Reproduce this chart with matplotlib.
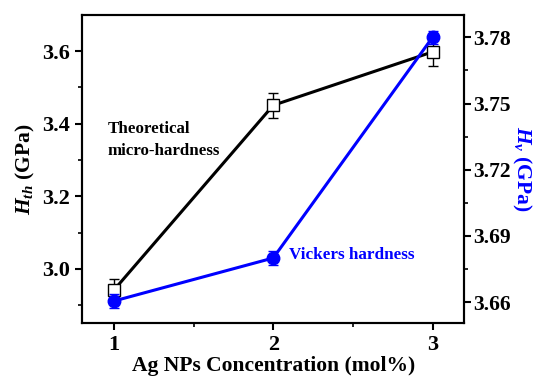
import matplotlib

matplotlib.use("Agg")

import matplotlib.pyplot as plt
from matplotlib.ticker import MultipleLocator

# data
concentration = [1, 2, 3]
h_th = [2.942, 3.451, 3.598]
h_th_err = [0.03, 0.035, 0.04]
h_v = [3.6605, 3.680, 3.780]
h_v_err = [0.003, 0.003, 0.003]

plt.rcParams["font.family"] = "Liberation Serif"
plt.rcParams["font.weight"] = "bold"
plt.rcParams["mathtext.fontset"] = "custom"
plt.rcParams["mathtext.it"] = "Liberation Serif:italic:bold"
plt.rcParams["mathtext.rm"] = "Liberation Serif:bold"
plt.rcParams["mathtext.bf"] = "Liberation Serif:bold"

fig, ax = plt.subplots(figsize=(5.4, 3.81), dpi=100)
fig.subplots_adjust(left=0.152, right=0.86, top=0.96, bottom=0.152)
ax2 = ax.twinx()

ax.errorbar(concentration, h_th, yerr=h_th_err, color="black", linewidth=2.2,
            marker="s", markersize=8, markerfacecolor="white", markeredgecolor="black",
            markeredgewidth=1, ecolor="black", elinewidth=1, capsize=3.5, zorder=3)
ax2.errorbar(concentration, h_v, yerr=h_v_err, color="#0000ff", linewidth=2.2,
             marker="o", markersize=9, markerfacecolor="#0000ff", markeredgecolor="#0000ff",
             ecolor="#0000ff", elinewidth=1, capsize=3.5, zorder=3)

ax.set_xlim(0.8, 3.2)
ax.set_ylim(2.851, 3.699)
ax2.set_ylim(3.6505, 3.790)

ax.xaxis.set_major_locator(MultipleLocator(1))
ax.xaxis.set_minor_locator(MultipleLocator(0.5))
ax.yaxis.set_major_locator(MultipleLocator(0.2))
ax.yaxis.set_minor_locator(MultipleLocator(0.1))
ax2.yaxis.set_major_locator(MultipleLocator(0.03))
ax2.yaxis.set_minor_locator(MultipleLocator(0.015))
ax2.yaxis.set_major_formatter(lambda v, _: f"{v:.2f}")

for a in (ax, ax2):
    for spine in a.spines.values():
        spine.set_linewidth(1.5)
    a.tick_params(which="major", direction="out", length=5, width=1.5, labelsize=16)
    a.tick_params(which="minor", direction="out", length=3, width=1.2)
ax2.tick_params(which="major", pad=1.5, labelsize=15.5)

ax.set_xlabel("Ag NPs Concentration (mol%)", fontsize=15.5, fontweight="bold", labelpad=1)
ax.set_ylabel("$H_{th}$ (GPa)", fontsize=15.5, fontweight="bold", labelpad=4)
ax2.set_ylabel("$H_{v}$ (GPa)", fontsize=15.5, fontweight="bold", color="#0000ff",
               rotation=270, labelpad=16)

ax.text(0.96, 3.355, "Theoretical\nmicro-hardness", fontsize=12.2, fontweight="bold",
        va="center", ha="left", linespacing=1.45)
ax2.text(2.1, 3.6815, "Vickers hardness", fontsize=12.3, fontweight="bold",
         color="#0000ff", va="center", ha="left")

fig.savefig("out.png", dpi=100)
